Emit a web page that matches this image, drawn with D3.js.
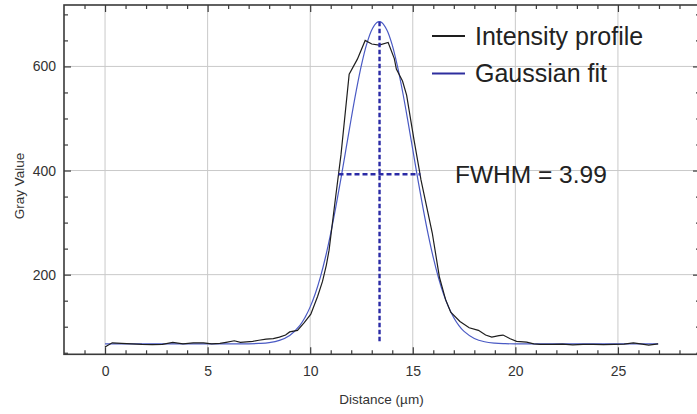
<!DOCTYPE html>
<html>
<head>
<meta charset="utf-8">
<script src="https://cdn.jsdelivr.net/npm/d3@7"></script>
<style>
  html, body { margin: 0; padding: 0; background: #fff; }
  svg { display: block; font-family: "Liberation Sans", Arial, sans-serif; }
</style>
</head>
<body>
<svg id="chart" width="697" height="414"></svg>
<script>
// ---- data ----
const profileX = [0.0, 0.35, 0.8, 1.3, 1.8, 2.3, 2.8, 3.3, 3.8, 4.3, 4.8, 5.2, 5.6, 5.9, 6.3, 6.6, 7.2, 7.5, 7.85, 8.2, 8.5, 8.8, 9.0, 9.38, 9.71, 10.03, 10.36, 10.6, 10.79, 10.92, 11.22, 11.5, 11.9, 12.3, 12.68, 13.0, 13.36, 13.8, 14.1, 14.2, 14.5, 14.7, 15.06, 15.3, 15.4, 15.95, 16.3, 16.6, 16.85, 17.3, 17.75, 18.2, 18.55, 18.85, 19.2, 19.4, 19.75, 20.06, 20.55, 20.9, 21.2, 21.8, 22.3, 22.8, 23.3, 23.8, 24.3, 24.8, 25.3, 25.75, 26.1, 26.5, 26.96];
const profileY = [61, 69, 68, 67, 66, 65.5, 66, 70, 67, 69, 69, 67, 68, 70, 73, 70, 72, 74, 76, 77, 80, 84, 90, 93, 108, 124, 158, 187, 219, 247, 343, 430, 585, 614, 650, 643, 641, 646, 615, 595, 572, 545, 459, 405, 382, 280, 195, 152, 128, 110, 98, 93, 84, 80, 83, 84, 77, 72, 70.5, 67, 66, 66, 66.5, 65, 66, 66, 65.5, 66, 66.5, 69, 67, 64.5, 67];

const fitX = [0, 2, 4, 6, 7, 7.5, 8, 8.5, 9, 9.5, 9.75, 10, 10.25, 10.5, 10.75, 11, 11.25, 11.5, 11.75, 12, 12.25, 12.5, 12.75, 13, 13.25, 13.37, 13.5, 13.75, 14, 14.25, 14.5, 14.75, 15, 15.25, 15.5, 15.75, 16, 16.25, 16.5, 16.75, 17, 17.25, 17.5, 18, 18.5, 19, 19.5, 20, 22, 24, 26, 26.96];
const fitY = [67, 67, 67, 67, 67.2, 67.9, 69.5, 73.8, 83.3, 102.7, 118, 138.1, 163.9, 195.9, 234.4, 279.3, 330, 385, 442.4, 500, 554.4, 602.9, 642.3, 670, 684.3, 686, 684, 669.2, 641, 601, 552.3, 497.7, 440.2, 382.7, 327.8, 277.4, 232.7, 194.5, 162.8, 137.3, 117.3, 102.2, 91, 77.4, 71.1, 68.5, 67.5, 67, 67, 67, 67, 67];

const xTicks = [0, 5, 10, 15, 20, 25];
const xMinorTicks = [-1, 1, 2, 3, 4, 6, 7, 8, 9, 11, 12, 13, 14, 16, 17, 18, 19, 21, 22, 23, 24, 26, 27, 28];
const yTicks = [200, 400, 600];
const yMinorTicks = [50, 100, 150, 250, 300, 350, 450, 500, 550, 650, 700];

const fwhmCenter = [13.38];
const fwhmHalfMax = [393];
const fwhmEnds = [11.38, 15.37];
const fwhmVertical = [69, 686];

const legendLabels = ["Intensity profile", "Gaussian fit"];
const fwhmLabel = "FWHM = 3.99";
const xTitle = "Distance (\u00b5m)";
const yTitle = "Gray Value";

// ---- layout ----
const svg = d3.select("#chart");
const L = 64, R = 700, T = 5, B = 354.3;
const x = d3.scaleLinear().domain([-2, 29]).range([L, R]);
const y = d3.scaleLinear().domain([47, 718]).range([B, T]);

const gridColor = "#c9c9c9";
const axisColor = "#3a3a3a";
const textColor = "#333";

// grid
svg.append("g").selectAll("line").data(xTicks).join("line")
  .attr("x1", d => x(d)).attr("x2", d => x(d))
  .attr("y1", T).attr("y2", B)
  .attr("stroke", gridColor).attr("stroke-width", 1);
svg.append("g").selectAll("line").data(yTicks).join("line")
  .attr("x1", L).attr("x2", R)
  .attr("y1", d => y(d)).attr("y2", d => y(d))
  .attr("stroke", gridColor).attr("stroke-width", 1);

// axes
function styleAxis(g) {
  g.select(".domain").remove();
  g.selectAll(".tick line").attr("stroke", axisColor).attr("stroke-width", 1.2);
  g.selectAll(".tick text").attr("fill", textColor)
    .style("font-size", "14px").style("font-family", "'Liberation Sans', Arial, sans-serif");
}
svg.append("g").attr("transform", `translate(0,${B})`)
  .call(d3.axisBottom(x).tickValues(xTicks).tickSizeInner(-7).tickSizeOuter(0).tickPadding(12).tickFormat(d3.format("d")))
  .call(styleAxis);
svg.append("g").attr("transform", `translate(0,${B})`)
  .call(d3.axisBottom(x).tickValues(xMinorTicks).tickSizeInner(-4).tickSizeOuter(0).tickFormat(""))
  .call(styleAxis);
svg.append("g").attr("transform", `translate(0,${T})`)
  .call(d3.axisTop(x).tickValues(xTicks).tickSizeInner(-7).tickSizeOuter(0).tickFormat(""))
  .call(styleAxis);
svg.append("g").attr("transform", `translate(0,${T})`)
  .call(d3.axisTop(x).tickValues(xMinorTicks).tickSizeInner(-4).tickSizeOuter(0).tickFormat(""))
  .call(styleAxis);
svg.append("g").attr("transform", `translate(${L},0)`)
  .call(d3.axisLeft(y).tickValues(yTicks).tickSizeInner(-7).tickSizeOuter(0).tickPadding(8).tickFormat(d3.format("d")))
  .call(styleAxis);
svg.append("g").attr("transform", `translate(${L},0)`)
  .call(d3.axisLeft(y).tickValues(yMinorTicks).tickSizeInner(-4).tickSizeOuter(0).tickFormat(""))
  .call(styleAxis);
svg.append("g").attr("transform", `translate(${R},0)`)
  .call(d3.axisRight(y).tickValues(yTicks).tickSizeInner(-7).tickSizeOuter(0).tickFormat(""))
  .call(styleAxis);
svg.append("g").attr("transform", `translate(${R},0)`)
  .call(d3.axisRight(y).tickValues(yMinorTicks).tickSizeInner(-4).tickSizeOuter(0).tickFormat(""))
  .call(styleAxis);

// frame
svg.append("rect").attr("x", L).attr("y", T).attr("width", R - L).attr("height", B - T)
  .attr("fill", "none").attr("stroke", axisColor).attr("stroke-width", 1.6);

// curves
const fitData = fitX.map((d, i) => [d, fitY[i]]);
const profData = profileX.map((d, i) => [d, profileY[i]]);
svg.append("path").datum(fitData)
  .attr("d", d3.line().x(d => x(d[0])).y(d => y(d[1])).curve(d3.curveCatmullRom))
  .attr("fill", "none").attr("stroke", "#4a5ac4").attr("stroke-width", 1.2);
svg.append("path").datum(profData)
  .attr("d", d3.line().x(d => x(d[0])).y(d => y(d[1])))
  .attr("fill", "none").attr("stroke", "#1e1e1e").attr("stroke-width", 1.2);

// FWHM annotation
const dashColor = "#2a2aa6";
svg.append("line")
  .attr("x1", x(fwhmEnds[0])).attr("x2", x(fwhmEnds[1]))
  .attr("y1", y(fwhmHalfMax[0])).attr("y2", y(fwhmHalfMax[0]))
  .attr("stroke", dashColor).attr("stroke-width", 2.4).attr("stroke-dasharray", "5,3");
svg.append("line")
  .attr("x1", x(fwhmCenter[0])).attr("x2", x(fwhmCenter[0]))
  .attr("y1", y(fwhmVertical[1])).attr("y2", y(fwhmVertical[0]))
  .attr("stroke", dashColor).attr("stroke-width", 2.4).attr("stroke-dasharray", "4.5,2.5");

svg.append("text").attr("x", 455).attr("y", 182.5)
  .attr("fill", "#222").style("font-size", "24.5px").text(fwhmLabel);

// legend
const legColors = ["#1e1e1e", "#2e2e9e"];
const legY = [36, 73.5];
legendLabels.forEach((lab, i) => {
  svg.append("line").attr("x1", 432).attr("x2", 465).attr("y1", legY[i]).attr("y2", legY[i])
    .attr("stroke", legColors[i]).attr("stroke-width", 1.8);
  svg.append("text").attr("x", 475).attr("y", legY[i] + 8.5)
    .attr("fill", "#222").style("font-size", "25px").text(lab);
});

// axis titles
svg.append("text").attr("x", (L + R) / 2 - 0.5).attr("y", 404)
  .attr("text-anchor", "middle").attr("fill", textColor).style("font-size", "13.5px").text(xTitle);
svg.append("text").attr("transform", "translate(24,186) rotate(-90)")
  .attr("text-anchor", "middle").attr("fill", textColor).style("font-size", "13.5px").text(yTitle);
</script>
</body>
</html>
